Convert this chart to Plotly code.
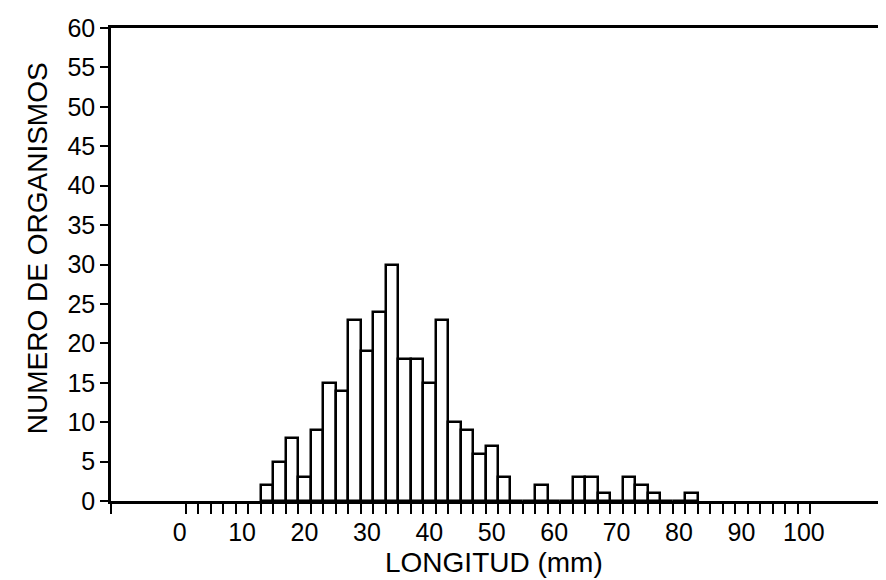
import plotly.graph_objects as go

# Bin centres (mm) and counts
longitud = [14, 16, 18, 20, 22, 24, 26, 28, 30, 32, 34, 36, 38, 40, 42, 44, 46, 48,
            50, 52, 54, 56, 58, 60, 62, 64, 66, 68, 70, 72, 74, 76, 78, 80, 82]
organismos = [2, 5, 8, 3, 9, 15, 14, 23, 19, 24, 30, 18, 18, 15, 23, 10, 9, 6,
              7, 3, 0, 0, 2, 0, 0, 3, 3, 1, 0, 3, 2, 1, 0, 0, 1]

x_labels = [0, 10, 20, 30, 40, 50, 60, 70, 80, 90, 100]
x_minor_ticks = [-11] + list(range(1, 102, 2)) + [113]
y_ticks = [0, 5, 10, 15, 20, 25, 30, 35, 40, 45, 50, 55, 60]

FONT = "Liberation Sans, Arial, sans-serif"
XR = [-11, 113]

fig = go.Figure()
fig.add_trace(go.Bar(
    x=longitud, y=organismos, width=2,
    marker=dict(color="white", line=dict(color="black", width=2.5)),
    xaxis="x", yaxis="y", showlegend=False,
))
# invisible helper trace so the label axis is drawn
fig.add_trace(go.Scatter(x=[XR[0]], y=[0], xaxis="x2", yaxis="y",
                         mode="markers", marker=dict(opacity=0),
                         showlegend=False, hoverinfo="skip"))

fig.update_layout(
    width=886, height=580,
    margin=dict(l=103, r=6, t=12, b=87),
    paper_bgcolor="white", plot_bgcolor="white",
    bargap=0,
    font=dict(family=FONT, color="black"),
    xaxis=dict(
        range=XR, tickmode="array", tickvals=x_minor_ticks,
        ticktext=["" for _ in x_minor_ticks],
        ticks="outside", ticklen=10, tickwidth=1.5, tickcolor="black",
        showline=True, linewidth=3, linecolor="black", mirror=True,
        showgrid=False, zeroline=False,
    ),
    xaxis2=dict(
        range=XR, overlaying="x", side="bottom", anchor="y",
        tickmode="array", tickvals=x_labels,
        ticktext=[str(v) for v in x_labels],
        ticks="", ticklabelstandoff=14,
        tickfont=dict(size=25, family=FONT, color="black"),
        showline=False, showgrid=False, zeroline=False,
    ),
    yaxis=dict(
        range=[0, 60], tickmode="array", tickvals=y_ticks,
        ticks="outside", ticklen=8, tickwidth=1.5, tickcolor="black",
        tickfont=dict(size=25, family=FONT, color="black"),
        ticklabeloverflow="allow",
        showline=True, linewidth=2.5, linecolor="black", mirror=True,
        showgrid=False, zeroline=False,
    ),
    annotations=[
        dict(text="NUMERO DE ORGANISMOS", xref="paper", yref="paper",
             x=-0.094, y=0.535, xanchor="center", yanchor="middle",
             textangle=-90, showarrow=False,
             font=dict(size=28, family=FONT, color="black")),
        dict(text="LONGITUD (mm)", xref="paper", yref="paper",
             x=0.495, y=-0.13, xanchor="center", yanchor="middle",
             showarrow=False,
             font=dict(size=28, family=FONT, color="black")),
    ],
)

fig.write_html("out.html")
